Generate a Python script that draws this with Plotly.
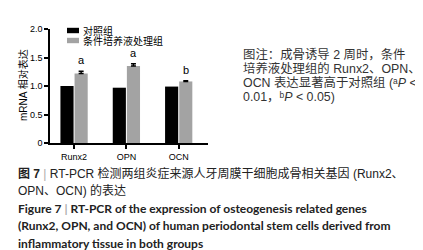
import plotly.graph_objects as go

# ---------------- data ----------------
categories = ["Runx2", "OPN", "OCN"]
series_names = ["对照组", "条件培养液处理组"]
control_vals = [1.00, 0.97, 0.99]
treated_vals = [1.22, 1.35, 1.08]
treated_err = [0.04, 0.04, 0.01]
sig_labels = ["a", "a", "b"]
y_tickvals = [0, 0.5, 1.0, 1.5, 2.0]
y_ticktext = ["0", "0.5", "1.0", "1.5", "2.0"]
y_title = "mRNA 相对表达"

note_lines = [
    "图注：成骨诱导 2 周时，条件",
    "培养液处理组的 Runx2、OPN、",
    "OCN 表达显著高于对照组 (ᵃ<i>P</i> <",
    "0.01，ᵇ<i>P</i> < 0.05)",
]
caption_lines = [
    ("<b>图 7</b> <span style='color:#aaaaaa'>|</span> RT-PCR 检测两组炎症来源人牙周膜干细胞成骨相关基因 (Runx2、", False),
    ("OPN、OCN) 的表达", False),
    ("Figure 7 <span style='color:#aaaaaa'>|</span> RT-PCR of the expression of osteogenesis related genes", True),
    ("(Runx2, OPN, and OCN) of human periodontal stem cells derived from", True),
    ("inflammatory tissue in both groups", True),
]

# ---------------- layout geometry ----------------
W, H = 423, 250
ML, MR, MT, MB = 42, 223, 21, 115
PW = W - ML - MR
PH = H - MT - MB


def px_x(px):
    return (px - ML) / PW


def px_y(py):
    return (H - MB - py) / PH


colors = ["#000000", "#a3a3a3"]
cjk = "Liberation Sans, Noto Sans CJK SC, DejaVu Sans"

fig = go.Figure()
fig.add_trace(go.Bar(
    x=categories, y=control_vals, name=series_names[0],
    marker=dict(color=colors[0], line=dict(width=0)), showlegend=False,
))
fig.add_trace(go.Bar(
    x=categories, y=treated_vals, name=series_names[1],
    marker=dict(color=colors[1], line=dict(width=0)), showlegend=False,
    error_y=dict(type="data", array=treated_err, arrayminus=[0] * len(treated_err),
                 symmetric=False, color="#000000", thickness=1.5, width=2.5),
))

annotations = []
# significance letters
for c, v, e, s in zip(categories, treated_vals, treated_err, sig_labels):
    annotations.append(dict(
        x=c, y=v + e, xref="x", yref="y", text=s, showarrow=False,
        xshift=7.5, yshift=3, yanchor="bottom", xanchor="center",
        font=dict(family="Liberation Sans", size=11, color="#000000"),
    ))

# manual legend
shapes = []
leg_rows = [22.5, 32.5]
for name, col, yc in zip(series_names, colors, leg_rows):
    shapes.append(dict(type="rect", xref="paper", yref="paper",
                       x0=px_x(59), x1=px_x(71), y0=px_y(yc + 2.7), y1=px_y(yc - 2.7),
                       fillcolor=col, line=dict(width=0)))
    annotations.append(dict(
        x=px_x(73), y=px_y(yc), xref="paper", yref="paper", text=name,
        showarrow=False, xanchor="left", yanchor="middle",
        font=dict(family=cjk, size=10, color="#000000"),
    ))

# y-axis title
annotations.append(dict(
    x=px_x(15), y=px_y(77), xref="paper", yref="paper", text=y_title,
    showarrow=False, textangle=-90, xanchor="center", yanchor="middle",
    font=dict(family=cjk, size=10, color="#000000"),
))

# right-side note
for i, t in enumerate(note_lines):
    annotations.append(dict(
        x=px_x(233), y=px_y(46 + i * 14.3), xref="paper", yref="paper", text=t,
        showarrow=False, xanchor="left", yanchor="middle",
        font=dict(family=cjk, size=12.4, color="#333333"),
    ))

# bottom caption
for i, (t, bold) in enumerate(caption_lines):
    if bold:
        txt = "<b>" + t + "</b>"
        fam = "Lato, Liberation Sans"
    else:
        txt = t
        fam = cjk
    annotations.append(dict(
        x=px_x(8), y=px_y(165 + i * 17.6), xref="paper", yref="paper", text=txt,
        showarrow=False, xanchor="left", yanchor="middle",
        font=dict(family=fam, size=12, color="#222222"),
    ))

fig.update_layout(
    width=W, height=H,
    margin=dict(l=ML, r=MR, t=MT, b=MB, pad=0),
    paper_bgcolor="white", plot_bgcolor="white",
    barmode="group", bargap=0.46, bargroupgap=0.07,
    annotations=annotations, shapes=shapes,
    showlegend=False,
)
fig.update_xaxes(
    range=[-0.46, 2.56], showline=True, linecolor="#000000", linewidth=1.5,
    ticks="outside", ticklen=4, tickwidth=1.5, tickcolor="#000000",
    showgrid=False, zeroline=False,
    tickfont=dict(family="Liberation Sans", size=9, color="#000000"),
)
fig.update_yaxes(
    range=[0, 2.0], tickvals=y_tickvals, ticktext=y_ticktext,
    showline=True, linecolor="#000000", linewidth=1.5,
    ticks="outside", ticklen=4, tickwidth=1.5, tickcolor="#000000",
    showgrid=False, zeroline=False,
    tickfont=dict(family="Liberation Sans", size=9, color="#000000"),
)

fig.write_html("out.html")
